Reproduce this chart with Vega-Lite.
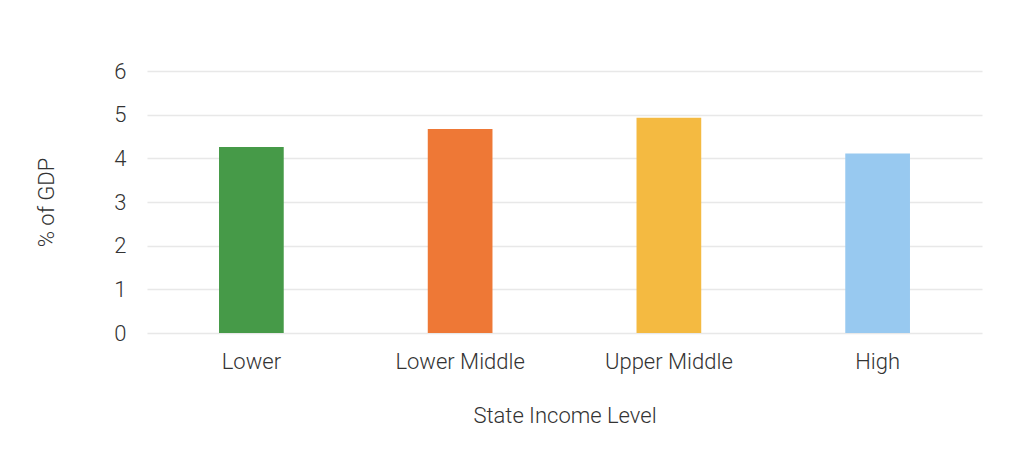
{
  "$schema": "https://vega.github.io/schema/vega-lite/v6.json",
  "autosize": "none",
  "width": 835,
  "height": 262,
  "padding": {"left": 147, "top": 71, "right": 47, "bottom": 130},
  "background": "white",
  "config": {
    "font": "Roboto",
    "view": {"stroke": null},
    "axis": {"labelColor": "#333333", "titleColor": "#333333", "titleFontWeight": 300, "labelFontWeight": 300, "domain": false, "ticks": false}
  },
  "data": {
    "values": [
      {"level": "Lower", "gdp": 4.26, "color": "#469A48"},
      {"level": "Lower Middle", "gdp": 4.67, "color": "#EE7836"},
      {"level": "Upper Middle", "gdp": 4.93, "color": "#F4BA41"},
      {"level": "High", "gdp": 4.11, "color": "#98C9F0"}
    ]
  },
  "mark": {"type": "bar"},
  "encoding": {
    "x": {
      "field": "level",
      "type": "nominal",
      "sort": null,
      "scale": {"paddingInner": 0.69, "paddingOuter": 0.345},
      "axis": {"title": "State Income Level", "labelAngle": 0, "labelFontSize": 22, "labelPadding": 18, "titleFontSize": 22, "titlePadding": 33, "grid": false}
    },
    "y": {
      "field": "gdp",
      "type": "quantitative",
      "scale": {"domain": [0, 6]},
      "axis": {"title": "% of GDP", "values": [0, 1, 2, 3, 4, 5, 6], "labelFontSize": 22, "labelPadding": 21, "titleFontSize": 22, "titlePadding": 55, "gridColor": "#e8e8e8", "gridWidth": 1.5}
    },
    "color": {"field": "color", "type": "nominal", "scale": null}
  }
}
